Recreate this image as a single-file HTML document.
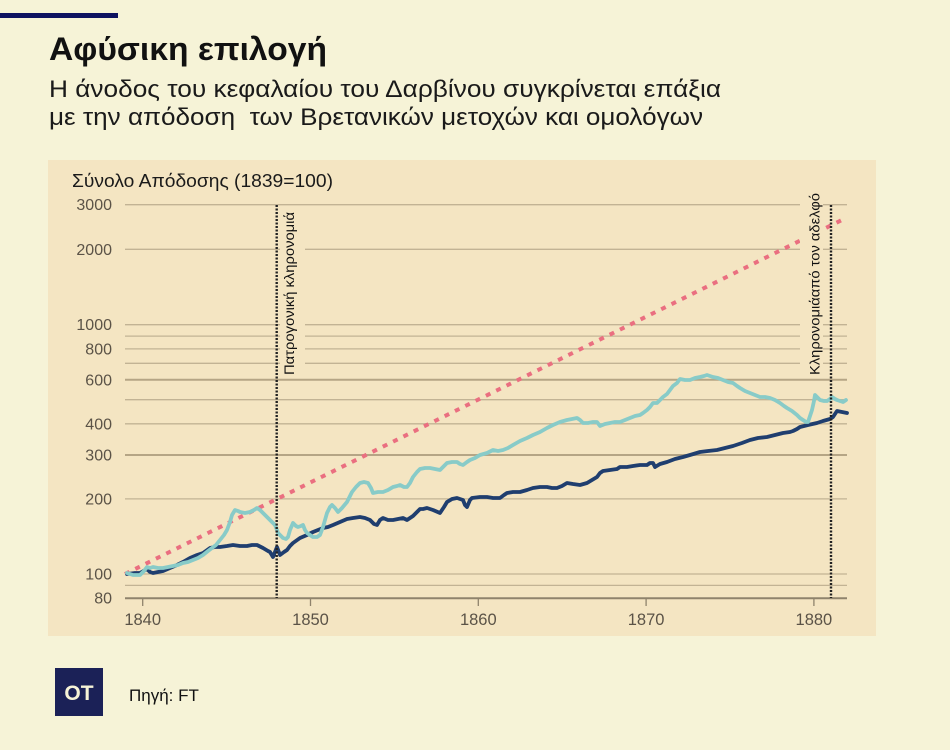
<!DOCTYPE html>
<html>
<head>
<meta charset="utf-8">
<style>
html,body{margin:0;padding:0;background:#f6f3d7;}
svg{display:block;}
text{font-family:"Liberation Sans","Noto Sans CJK SC",sans-serif;}
</style>
</head>
<body>
<svg width="950" height="750" viewBox="0 0 950 750" xmlns="http://www.w3.org/2000/svg">
<rect x="0" y="0" width="950" height="750" fill="#f6f3d7"/>
<rect x="0" y="13" width="118" height="5" fill="#0e1260"/>
<text x="49" y="60" font-size="32" font-weight="bold" fill="#111" textLength="278" lengthAdjust="spacingAndGlyphs">Αφύσικη επιλογή</text>
<text x="49" y="97" font-size="24" fill="#1a1a1a" textLength="672" lengthAdjust="spacingAndGlyphs">Η άνοδος του κεφαλαίου του Δαρβίνου συγκρίνεται επάξια</text>
<text x="49" y="125" font-size="24" fill="#1a1a1a" textLength="654" lengthAdjust="spacingAndGlyphs" xml:space="preserve">με την απόδοση  των Βρετανικών μετοχών και ομολόγων</text>

<!-- panel -->
<rect x="48" y="160" width="828" height="476" fill="#f4e5c2"/>
<text x="72" y="187" font-size="18" fill="#1a1a1a" textLength="261" lengthAdjust="spacingAndGlyphs">Σύνολο Απόδοσης (1839=100)</text>

<!-- gridlines -->
<g stroke="#c2b394" stroke-width="1.3">
<line x1="125" y1="204.7" x2="847" y2="204.7"/>
<line x1="125" y1="249.3" x2="847" y2="249.3"/>
<line x1="125" y1="324.7" x2="847" y2="324.7"/>
<line x1="125" y1="336.1" x2="847" y2="336.1"/>
<line x1="125" y1="348.9" x2="847" y2="348.9"/>
<line x1="125" y1="363.3" x2="847" y2="363.3"/>
<line x1="125" y1="399.7" x2="847" y2="399.7"/>
<line x1="125" y1="423.8" x2="847" y2="423.8"/>
<line x1="125" y1="498.9" x2="847" y2="498.9"/>
<line x1="125" y1="574" x2="847" y2="574"/>
<line x1="125" y1="585.4" x2="847" y2="585.4"/>
</g>
<g stroke="#b5a585" stroke-width="2">
<line x1="125" y1="379.8" x2="847" y2="379.8"/>
<line x1="125" y1="455" x2="847" y2="455"/>
</g>
<line x1="125" y1="598.2" x2="847" y2="598.2" stroke="#8f836c" stroke-width="2"/>
<g stroke="#8f836c" stroke-width="1.3">
<line x1="142.7" y1="598" x2="142.7" y2="606"/>
<line x1="310.5" y1="598" x2="310.5" y2="606"/>
<line x1="478.3" y1="598" x2="478.3" y2="606"/>
<line x1="646.1" y1="598" x2="646.1" y2="606"/>
<line x1="813.9" y1="598" x2="813.9" y2="606"/>
</g>

<!-- y labels -->
<g font-size="16" fill="#5b5347" text-anchor="end">
<text x="112" y="210.2">3000</text>
<text x="112" y="254.8">2000</text>
<text x="112" y="330.2">1000</text>
<text x="112" y="354.4">800</text>
<text x="112" y="385.3">600</text>
<text x="112" y="429.3">400</text>
<text x="112" y="460.5">300</text>
<text x="112" y="504.4">200</text>
<text x="112" y="579.5">100</text>
<text x="112" y="603.7">80</text>
</g>
<!-- x labels -->
<g font-size="16.5" fill="#5b5347" text-anchor="middle">
<text x="142.7" y="625">1840</text>
<text x="310.5" y="625">1850</text>
<text x="478.3" y="625">1860</text>
<text x="646.1" y="625">1870</text>
<text x="813.9" y="625">1880</text>
</g>

<!-- red trend -->
<line x1="125" y1="574" x2="846" y2="218" stroke="#ea6f80" stroke-width="4" stroke-dasharray="5 6.5"/>

<!-- label boxes -->
<rect x="280" y="207" width="25" height="170" fill="#f4e5c2"/>
<rect x="800" y="193" width="23" height="184" fill="#f4e5c2"/>

<!-- navy series -->
<polyline fill="none" stroke="#1f3e6f" stroke-width="3.8" stroke-linejoin="round" stroke-linecap="round" points="127,574 135,573 140,573 147,569 150,572 153,573 158,572 163,571 170,568 177,565 183,562 190,558 197,555 203,553 210,548 215,547 220,547 227,546 233,545 240,546 247,546 252,545 257,545 263,548 268,551 270,552 273,557 277,547 280,555 284,552 287,550 290,546 293,543 300,538 307,535 313,532 318,530 323,528 328,527 333,525 340,522 347,519 353,518 360,517 365,518 370,520 374,524 377,525 380,520 383,518 388,520 393,520 398,519 403,518 407,520 410,518 413,516 417,512 420,509 423,509 427,508 433,510 440,513 444,507 447,502 452,499 457,498 463,500 465,505 467,507 470,500 472,498 480,497 487,497 493,498 500,498 504,495 507,493 513,492 520,492 527,490 533,488 540,487 547,487 552,488 557,488 562,486 567,483 573,484 580,485 587,483 592,480 597,477 600,473 603,471 610,470 617,469 620,467 627,467 633,466 640,465 647,465 650,463 653,463 655,467 660,464 667,462 675,459 683,457 690,455 700,452 708,451 717,450 725,448 733,446 742,443 750,440 758,438 767,437 775,435 783,433 790,432 793,431 797,429 800,427 808,425 817,423 823,421 830,419 833,417 837,411 842,412 847,413"/>

<!-- teal series -->
<polyline fill="none" stroke="#88cbc8" stroke-width="3.8" stroke-linejoin="round" stroke-linecap="round" points="127,573 133,575 140,575 144,571 147,567 150,568 153,567 158,568 163,568 168,567 173,566 178,565 183,563 188,562 193,560 198,558 203,555 208,551 212,548 216,545 220,540 224,535 227,530 230,522 232,515 235,510 238,511 240,512 245,513 250,512 254,510 257,508 260,510 263,513 267,517 270,520 275,525 277,530 278,533 281,536 283,538 286,539 288,537 290,530 293,523 296,526 298,527 301,526 303,525 305,530 307,533 310,535 313,537 317,537 320,535 323,527 327,513 330,507 332,505 335,508 338,512 342,508 347,502 350,496 352,492 356,487 360,483 364,482 368,483 371,488 373,493 378,492 383,492 388,490 393,487 397,486 400,485 404,487 407,487 410,483 413,477 417,472 420,469 425,468 430,468 435,469 440,470 444,466 447,463 452,462 457,462 460,464 463,465 467,462 470,460 475,458 480,455 487,453 493,450 498,451 503,450 508,448 513,445 520,441 527,438 533,435 540,432 547,428 553,425 560,422 567,420 572,419 577,418 580,420 583,423 588,423 593,422 597,422 600,426 605,424 610,423 615,422 620,422 625,420 630,418 635,416 640,415 643,413 647,410 650,407 653,403 657,403 660,400 663,397 667,394 670,390 673,386 677,383 680,379 685,380 690,380 695,378 700,377 704,376 707,375 710,376 713,377 718,378 723,380 728,382 733,383 737,386 740,388 745,391 750,393 755,395 760,397 765,397 770,398 775,400 780,403 784,406 787,408 792,411 797,415 800,418 803,420 806,422 808,422 810,416 812,410 814,401 815,395 818,398 820,400 824,401 827,401 830,399 832,397 835,399 837,400 840,401 843,402 846,400"/>

<!-- vertical event lines -->
<g stroke="#222" stroke-width="2.4" stroke-dasharray="2 1.5">
<line x1="276.7" y1="205" x2="276.7" y2="598"/>
<line x1="831" y1="205" x2="831" y2="598"/>
</g>
<text transform="translate(294,375) rotate(-90)" font-size="14" fill="#111" textLength="163" lengthAdjust="spacingAndGlyphs">Πατρογονική κληρονομιά</text>
<text transform="translate(819.5,375) rotate(-90)" font-size="14" fill="#111" textLength="182" lengthAdjust="spacingAndGlyphs">Κληρονομιάαπό τον αδελφό</text>

<!-- footer -->
<rect x="55" y="668" width="48" height="48" fill="#1b2157"/>
<text x="79" y="700" font-size="21" font-weight="bold" fill="#f6f3d7" text-anchor="middle">OT</text>
<text x="129" y="701" font-size="17" fill="#111">Πηγή: FT</text>
</svg>
</body>
</html>
